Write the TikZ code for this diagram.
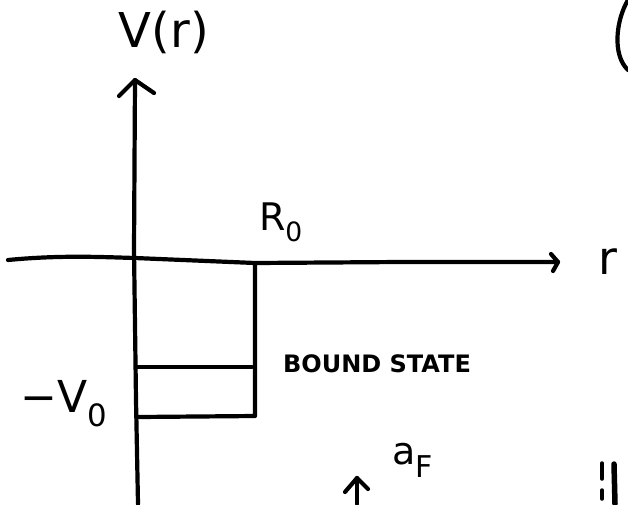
\documentclass[tikz,border=0pt]{standalone}
\usepackage{fontspec}
\setmainfont{DejaVu Sans}
\begin{document}
\begin{tikzpicture}[x=1pt,y=-1pt,
  stroke/.style={line width=4.2pt, line cap=round, line join=round},
  lbl/.style={inner sep=0pt, anchor=center}]
\useasboundingbox (0,0) rectangle (628,504);
% named points
\coordinate (vtip) at (135,80);
\coordinate (vbot) at (138,504);
\coordinate (hleft) at (8,260);
\coordinate (htip) at (558,262);
\coordinate (wtop) at (255,264);
\coordinate (wbot) at (255,416);
\coordinate (floorL) at (138,417);
\coordinate (bsL) at (137,367);
\coordinate (bsR) at (252,367);
\coordinate (atip) at (357,478);
\coordinate (abot) at (357,504);
% vertical axis
\draw[stroke] (vbot) -- (136,400) -- (134,250) -- (vtip);
\draw[stroke] (119,96) -- (vtip) -- (154,93);
% horizontal axis
\draw[stroke] (hleft) .. controls (60,255) and (100,257) .. (135,258) -- (255,263) -- (400,262) -- (htip);
\draw[stroke] (551,254) -- (htip) -- (553,271);
% well
\draw[stroke] (wtop) -- (wbot) -- (floorL);
\draw[stroke] (bsL) -- (bsR);
% small arrow at bottom
\draw[stroke] (abot) -- (atip);
\draw[stroke] (345,492) -- (atip) -- (368,489);
% marks at bottom right
\draw[line width=3.5pt, line cap=round] (602,463) -- (602,479);
\draw[line width=3.5pt, line cap=round] (602,490) -- (602,499);
\draw[line width=5.5pt, line cap=round] (614,464) -- (615,504);
% parenthesis at top right
\draw[stroke] (628,0) .. controls (616,20) and (612,55) .. (628,70);
% labels
\node[lbl, font=\fontsize{48}{48}\selectfont] (vlabel) at (164,32) {V(r)};
\node[lbl, font=\fontsize{38}{38}\selectfont] (rlabel) at (281,222) {R\textsubscript{0}};
\node[lbl, font=\fontsize{46}{46}\selectfont] (raxis) at (608,262) {r};
\node[lbl, font=\fontsize{24}{24}\selectfont\bfseries] (bound) at (377,364) {BOUND STATE};
\node[lbl, font=\fontsize{44}{44}\selectfont] (v0) at (64,404) {−V\textsubscript{0}};
\node[lbl, font=\fontsize{38}{38}\selectfont] (af) at (413,460) {a\textsubscript{\fontsize{30}{30}\selectfont F}};
\end{tikzpicture}
\end{document}
